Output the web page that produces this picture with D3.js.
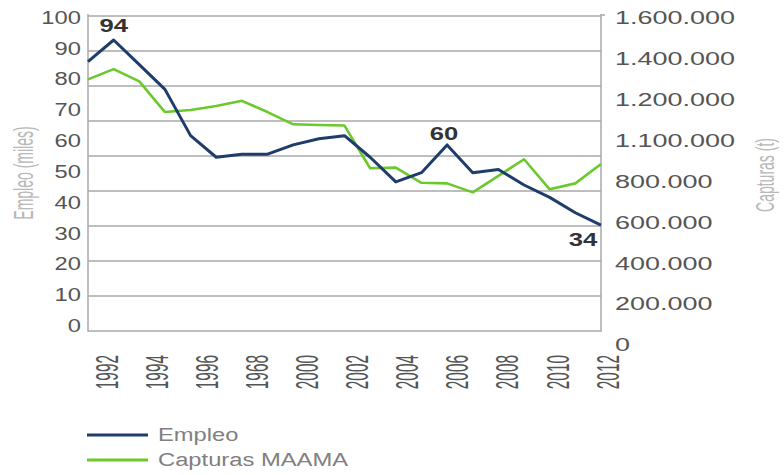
<!DOCTYPE html>
<html><head><meta charset="utf-8">
<script src="https://cdn.jsdelivr.net/npm/d3@7"></script>
<style>html,body{margin:0;padding:0;background:#fff;} svg{display:block;font-family:"Liberation Sans",Arial,Helvetica,sans-serif;}</style>
</head><body><svg id="chart" width="784" height="475"></svg>
<script>
// ---- data ----
const years = [1992,1993,1994,1995,1996,1997,1998,1999,2000,2001,2002,2003,2004,2005,2006,2007,2008,2009,2010,2011,2012];
const empleo = [87,94,86,78,63,56,57,57,60,62,63,56,48,51,60,51,52,47,43,38,34];
const capturas = [1290000,1340000,1280000,1130000,1140000,1160000,1185000,1130000,1070000,1067000,1064000,855000,858000,784000,781000,737000,818000,899000,752000,781000,876000];
const leftTicks = [0,10,20,30,40,50,60,70,80,90,100];
const rightTickValues = [0,200000,400000,600000,800000,1000000,1200000,1400000,1600000];
const rightTickLabels = ["0","200.000","400.000","600.000","800.000","1.100.000","1.200.000","1.400.000","1.600.000"];
const xTickYears = [1992,1994,1996,1998,2000,2002,2004,2006,2008,2010,2012];
const xTickLabels = ["1992","1994","1996","1968","2000","2002","2004","2006","2008","2010","2012"];
const annotatedYears = [1993,2006,2012];
const seriesNames = ["Empleo","Capturas MAAMA"];
const leftTitle = "Empleo (miles)";
const rightTitle = "Capturas (t)";

// ---- styles ----
const BLUE = "#1f3d6b", GREEN = "#6cc92c", GRID = "#a8a8a8", TICK = "#555", TITLE = "#b8b8b8";

const svg = d3.select("#chart");

const x = d3.scaleLinear().domain([1992,2012]).range([88,601]);
const xLab = d3.scaleLinear().domain([1992,2012]).range([106,607]);
const yL = d3.scaleLinear().domain([0,100]).range([330,21.5]);
const yR = d3.scaleLinear().domain([0,1600000]).range([343,16]);
const gridS = d3.scaleLinear().domain([0,9]).range([331,16]);

// gridlines
svg.append("g").selectAll("line").data(d3.range(10)).join("line")
  .attr("x1",88).attr("x2",601).attr("y1",d=>gridS(d)).attr("y2",d=>gridS(d))
  .attr("stroke",GRID).attr("stroke-width",1.5);
// frame verticals
svg.append("line").attr("x1",88).attr("x2",88).attr("y1",14).attr("y2",331.75).attr("stroke",GRID).attr("stroke-width",1.5);
svg.append("line").attr("x1",601).attr("x2",601).attr("y1",14).attr("y2",331.75).attr("stroke",GRID).attr("stroke-width",1.5);
svg.append("line").attr("x1",601).attr("x2",605).attr("y1",15).attr("y2",15).attr("stroke",GRID).attr("stroke-width",1.5);

// left axis labels
const gL = svg.append("g").attr("transform","translate(81,0)")
  .call(d3.axisLeft(yL).tickValues(leftTicks).tickSize(0).tickPadding(0));
gL.select(".domain").remove();
gL.selectAll("text").attr("x",0).attr("dy","0.36em").attr("text-anchor","end")
  .attr("transform",`translate(0,-4.8) scale(1.32,1)`)
  .attr("font-size",18).attr("fill",TICK).attr("font-family",null);

// right axis labels
const gR = svg.append("g").attr("transform","translate(615,0)")
  .call(d3.axisRight(yR).tickValues(rightTickValues).tickFormat((d,i)=>rightTickLabels[i]).tickSize(0).tickPadding(0));
gR.select(".domain").remove();
gR.selectAll("text").attr("x",0).attr("dy","0.36em").attr("text-anchor","start")
  .attr("transform",`translate(0,1) scale(1.42,1)`)
  .attr("font-size",19).attr("fill",TICK).attr("font-family",null);

// bottom axis labels (rotated)
const gB = svg.append("g").attr("transform","translate(0,355)")
  .call(d3.axisBottom(xLab).tickValues(xTickYears).tickFormat((d,i)=>xTickLabels[i]).tickSize(0).tickPadding(0));
gB.select(".domain").remove();
gB.selectAll("text").attr("x",0).attr("y",0).attr("dy","0.36em").attr("text-anchor","end")
  .attr("transform",`scale(1.4,1) rotate(-90) scale(0.7,1)`)
  .attr("font-size",22).attr("fill",TICK).attr("font-family",null);

// axis titles
svg.append("text").attr("transform","translate(23,173) scale(1.4,1) rotate(-90) scale(0.7,1)")
  .attr("text-anchor","middle").attr("dy","0.36em").attr("font-size",20).attr("fill",TITLE).text(leftTitle);
svg.append("text").attr("transform","translate(765,175) scale(1.3,1) rotate(-90) scale(0.7,1)")
  .attr("text-anchor","middle").attr("dy","0.36em").attr("font-size",20).attr("fill",TITLE).text(rightTitle);

// lines
const capData = years.map((yr,i)=>({year:yr, v:capturas[i]}));
const empData = years.map((yr,i)=>({year:yr, v:empleo[i]}));
svg.append("path").datum(capData)
  .attr("fill","none").attr("stroke",GREEN).attr("stroke-width",2.6).attr("stroke-linejoin","round")
  .attr("d", d3.line().x(d=>x(d.year)).y(d=>yR(d.v)));
svg.append("path").datum(empData)
  .attr("fill","none").attr("stroke",BLUE).attr("stroke-width",3).attr("stroke-linejoin","round")
  .attr("d", d3.line().x(d=>x(d.year)).y(d=>yL(d.v)));

// annotations
const annOffsets = [[0,-8],[-3,-5],[-18,21]];
annotatedYears.forEach((yr,i)=>{
  const v = empleo[years.indexOf(yr)];
  svg.append("text")
    .attr("transform",`translate(${x(yr)+annOffsets[i][0]},${yL(v)+annOffsets[i][1]}) scale(1.35,1)`)
    .attr("text-anchor","middle").attr("font-size",19).attr("font-weight","bold").attr("fill","#333")
    .text(v);
});

// legend
const legColors = [BLUE, GREEN];
const legY = d3.scalePoint().domain(seriesNames).range([435,460]);
const lg = svg.append("g");
seriesNames.forEach((name,i)=>{
  const yy = legY(name);
  lg.append("line").attr("x1",87).attr("x2",148).attr("y1",yy).attr("y2",yy)
    .attr("stroke",legColors[i]).attr("stroke-width",3);
  lg.append("text").attr("transform",`translate(158,${yy}) scale(1.32,1)`)
    .attr("dy","0.36em").attr("font-size",18).attr("fill","#808080").text(name);
});
</script></body></html>
